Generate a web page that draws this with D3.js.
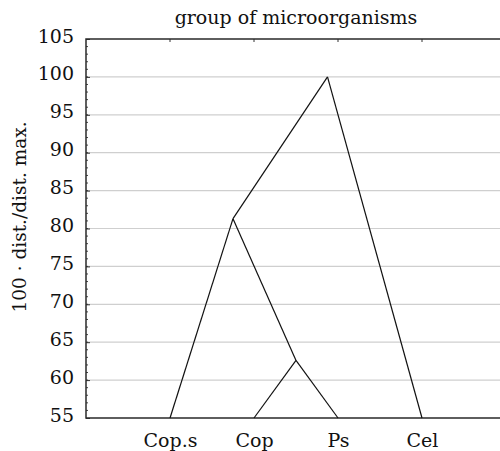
<!DOCTYPE html>
<html>
<head>
<meta charset="utf-8">
<script src="https://cdn.jsdelivr.net/npm/d3@7"></script>
<style>
  body { margin: 0; background: #fff; }
  svg text { font-family: "DejaVu Serif", serif; fill: #111; }
</style>
</head>
<body>
<svg></svg>
<script>
// dendrogram of the microorganism groups
const leaves = ["Cop.s", "Cop", "Ps", "Cel"]
const joinNames = ["n1", "n2", "n3"]
const joinLeft = ["Cop", "Cop.s", "n2"]
const joinRight = ["Ps", "n1", "Cel"]
const joinHeights = [62.6, 81.3, 100.0]
const yTicks = [55, 60, 65, 70, 75, 80, 85, 90, 95, 100, 105]

const svg = d3.select("svg")
svg
	.attr("width", 500)
	.attr("height", 451)

const plotLeft = 86, plotTop = 39, plotBottom = 418, plotRight = 500

const scaleX = d3.scaleLinear()
	.domain([0, leaves.length + 1])
	.range([plotLeft, 506])

const scaleY = d3.scaleLinear()
	.domain([55, 105])
	.range([plotBottom, plotTop])

// positions of leaves and joins
const pos = {}
leaves.forEach((d, i) => { pos[d] = { x: i + 1, y: 55 } })
joinNames.forEach((n, i) => {
	const a = pos[joinLeft[i]], b = pos[joinRight[i]]
	pos[n] = { x: (a.x + b.x) / 2, y: joinHeights[i] }
})

// grid lines
svg.append("g")
	.selectAll("line")
	.data(yTicks.filter(d => d > 55 && d < 105))
	.enter()
	.append("line")
	.attr("x1", plotLeft)
	.attr("x2", plotRight)
	.attr("y1", d => scaleY(d))
	.attr("y2", d => scaleY(d))
	.attr("stroke", "#cfcfcf")
	.attr("stroke-width", 1.2)

// minor ticks on the left axis
svg.append("g")
	.selectAll("line")
	.data(d3.range(56, 105))
	.enter()
	.append("line")
	.attr("x1", plotLeft)
	.attr("x2", plotLeft + 2)
	.attr("y1", d => scaleY(d))
	.attr("y2", d => scaleY(d))
	.attr("stroke", "#444")
	.attr("stroke-width", 1)

// left axis labels
const yAxis = d3.axisLeft(scaleY)
	.tickValues(yTicks)
	.tickSize(-4)
	.tickPadding(12)
const gy = svg.append("g")
	.attr("transform", `translate(${plotLeft},0)`)
	.call(yAxis)
gy.select(".domain").remove()
gy.selectAll(".tick line").attr("stroke", "#333")
gy.selectAll(".tick text")
	.attr("font-size", 19)
	.attr("font-family", "DejaVu Serif")
	.attr("fill", "#111")
	.attr("dy", 3)

// bottom axis labels
const xAxis = d3.axisBottom(scaleX)
	.tickValues(leaves.map((d, i) => i + 1))
	.tickFormat((d) => leaves[d - 1])
	.tickSize(0)
	.tickPadding(16)
const gx = svg.append("g")
	.attr("transform", `translate(0,${plotBottom})`)
	.call(xAxis)
gx.select(".domain").remove()
gx.selectAll(".tick text")
	.attr("font-size", 19)
	.attr("font-family", "DejaVu Serif")
	.attr("fill", "#111")

// top tick marks
svg.append("g")
	.selectAll("line")
	.data(leaves)
	.enter()
	.append("line")
	.attr("x1", (d, i) => scaleX(i + 1))
	.attr("x2", (d, i) => scaleX(i + 1))
	.attr("y1", plotTop)
	.attr("y2", plotTop + 3)
	.attr("stroke", "#333")

// frame
svg.append("path")
	.attr("d", `M${plotRight},${plotTop}H${plotLeft}V${plotBottom}H${plotRight}`)
	.attr("fill", "none")
	.attr("stroke", "#2a2a2a")
	.attr("stroke-width", 1.5)

// dendrogram links
const links = []
joinNames.forEach((n, i) => {
	links.push([pos[joinLeft[i]], pos[n]])
	links.push([pos[n], pos[joinRight[i]]])
})
svg.append("g")
	.selectAll("line")
	.data(links)
	.enter()
	.append("line")
	.attr("x1", d => scaleX(d[0].x))
	.attr("y1", d => scaleY(d[0].y))
	.attr("x2", d => scaleX(d[1].x))
	.attr("y2", d => scaleY(d[1].y))
	.attr("stroke", "#111")
	.attr("stroke-width", 1.2)

// title
svg.append("text")
	.attr("x", (plotLeft + 506) / 2)
	.attr("y", 24)
	.attr("text-anchor", "middle")
	.attr("font-size", 19)
	.text("group of microorganisms")

// y label
svg.append("text")
	.attr("transform", "translate(26,217) rotate(-90)")
	.attr("text-anchor", "middle")
	.attr("font-size", 18.5)
	.text("100 · dist./dist. max.")
</script>
</body>
</html>
